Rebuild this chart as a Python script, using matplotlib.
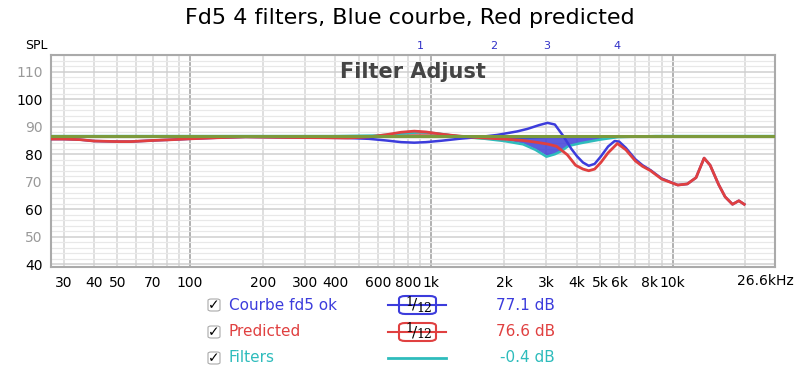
import matplotlib
matplotlib.use("Agg")
import matplotlib.pyplot as plt
from matplotlib.patches import FancyBboxPatch
from matplotlib.lines import Line2D

# measured curve (blue)
blue_f = [26.6, 30, 35, 40, 50, 57, 70, 85, 100, 130, 170, 250, 350, 450, 550, 650, 750,
          850, 950, 1100, 1300, 1600, 1870, 2270, 2500, 2800, 3030, 3250, 3530, 3800, 4020,
          4250, 4490, 4750, 5040, 5400, 5750, 6000, 6400, 7000, 7500, 8100, 9000, 10500,
          11500, 12500, 13500, 14300, 15500, 16500, 17700, 18800, 19800]
blue_db = [85.5, 85.5, 85.3, 84.8, 84.6, 84.6, 85.0, 85.3, 85.6, 86.0, 86.3, 86.1, 86.0,
           85.9, 85.6, 85.0, 84.4, 84.2, 84.4, 84.9, 85.6, 86.3, 87.0, 88.3, 89.2, 90.6,
           91.4, 90.8, 86.5, 82.0, 79.2, 77.0, 75.8, 76.5, 79.2, 82.8, 84.8, 84.6, 82.3,
           78.2, 76.0, 74.2, 71.2, 68.8, 69.2, 71.5, 78.6, 76.0, 69.0, 64.5, 61.8, 63.1, 61.8]

# predicted curve (red)
red_f = [26.6, 30, 35, 40, 50, 57, 70, 85, 100, 130, 170, 250, 350, 450, 550, 650, 750,
         850, 950, 1100, 1300, 1600, 2000, 2400, 2700, 3030, 3300, 3660, 3960, 4250, 4490,
         4750, 5040, 5400, 5900, 6400, 7000, 7500, 8100, 9000, 10500, 11500, 12500, 13500,
         14300, 15500, 16500, 17700, 18800, 19800]
red_db = [85.5, 85.5, 85.3, 84.8, 84.6, 84.6, 85.0, 85.3, 85.6, 86.0, 86.3, 86.1, 86.0,
          85.9, 86.3, 87.1, 88.0, 88.4, 88.1, 87.3, 86.6, 86.0, 85.5, 85.0, 84.4, 83.7,
          82.9, 79.8, 76.0, 74.6, 74.0, 74.6, 77.0, 80.5, 83.9, 81.6, 77.6, 75.6, 74.0,
          71.0, 68.8, 69.2, 71.5, 78.6, 76.0, 69.0, 64.5, 61.8, 63.1, 61.8]

target_db = 86.6
target_f = [26.6, 26600]

# filters total (cyan), gain relative to target
filt_f = [26.6, 400, 600, 750, 900, 1050, 1300, 1600, 2000, 2400, 2700, 3000, 3250, 3450,
          3700, 4150, 5000, 5900, 7000, 8500, 12000, 26600]
filt_db = [0, 0, 0.2, 0.9, 1.4, 1.0, -0.1, -0.8, -1.8, -3.0, -5.0, -7.5, -6.6, -5.5,
           -3.6, -2.6, -1.3, -0.4, -0.2, 0, 0, 0]

# individual filters
f1_f = [450, 550, 650, 750, 850, 950, 1050, 1200, 1400, 1700]
f1_db = [0, 0.3, 0.9, 1.6, 2.1, 2.0, 1.5, 0.9, 0.4, 0]
f2_f = [900, 1100, 1400, 1800, 2300, 2800, 3500, 4500]
f2_db = [0, -0.3, -0.8, -1.3, -1.1, -0.7, -0.3, 0]
f3_f = [1500, 2000, 2400, 2700, 3000, 3250, 3450, 3700, 4150, 5000, 6000]
f3_db = [0, -1.2, -2.6, -4.6, -7.0, -6.3, -5.3, -3.4, -2.4, -1.1, 0]
f4_f = [4500, 5200, 5900, 6600, 7500]
f4_db = [0, 0.3, 0.6, 0.3, 0]

filter_freqs = [900, 1810, 3000, 5900]
filter_names = ["1", "2", "3", "4"]

xticks = [30, 40, 50, 70, 100, 200, 300, 400, 600, 800, 1000, 2000, 3000, 4000, 5000,
          6000, 8000, 10000]
xlabels = ["30", "40", "50", "70", "100", "200", "300", "400", "600", "800", "1k", "2k",
           "3k", "4k", "5k", "6k", "8k", "10k"]
yticks = [40, 50, 60, 70, 80, 90, 100, 110]

legend_names = ["Courbe fd5 ok", "Predicted", "Filters"]
legend_vals = ["77.1 dB", "76.6 dB", "-0.4 dB"]

BLUE = "#3c3cdc"
RED = "#e04040"
CYAN = "#2ebcbc"
OLIVE = "#7c9a3c"

fig = plt.figure(figsize=(8, 3.76), dpi=100)
ax = fig.add_axes([0.064, 0.289, 0.905, 0.565])
ax.set_xscale("log")
ax.set_xlim(26.6, 26600)
ax.set_ylim(38.9, 116.1)

# grid
for dec in [10, 100, 1000, 10000]:
    for m in range(1, 10):
        f = dec * m
        if 26.6 < f < 26600:
            if m == 1:
                ax.axvline(f, color="#aaaaaa", lw=1.3, zorder=0)
            else:
                ax.axvline(f, color="#d6d6d6", lw=1.1, zorder=0)
for v in range(40, 117, 2):
    if v % 10 == 0:
        ax.axhline(v, color="#cfcfcf", lw=1.1, zorder=0)
    else:
        ax.axhline(v, color="#e8e8e8", lw=0.9, zorder=0)

# filter fills
ax.fill_between(f2_f, target_db, [target_db + g for g in f2_db], color="#30c030",
                alpha=0.85, lw=0, zorder=1)
ax.fill_between(f3_f, target_db, [target_db + g for g in f3_db], color="#4040d8",
                alpha=0.85, lw=0, zorder=1)
ax.fill_between(f4_f, target_db, [target_db + g for g in f4_db], color="#d8d020",
                alpha=0.9, lw=0, zorder=1)
ax.fill_between(f1_f, target_db, [target_db + g for g in f1_db], color="#c04040",
                alpha=0.7, lw=0, zorder=1)

ax.plot(filt_f, [target_db + g for g in filt_db], color=CYAN, lw=1.8, zorder=2)
ax.plot(blue_f, blue_db, color=BLUE, lw=1.8, zorder=3)
ax.plot(red_f, red_db, color=RED, lw=2.0, zorder=4)
ax.plot(target_f, [target_db, target_db], color=OLIVE, lw=2.2, zorder=5)

for s in ax.spines.values():
    s.set_color("#aaaaaa")
    s.set_linewidth(1.5)

ax.set_xticks(xticks)
ax.set_xticklabels(xlabels)
ax.xaxis.set_minor_locator(matplotlib.ticker.NullLocator())
ax.set_yticks(yticks)
ax.tick_params(length=0, labelsize=10, pad=6)
for lab, v in zip(ax.get_yticklabels(), yticks):
    lab.set_color("black" if v % 20 == 0 else "#999999")
ax.text(24300, 34, "26.6kHz", ha="center", va="center", fontsize=10, clip_on=False)

ax.text(-0.02, 1.045, "SPL", transform=ax.transAxes, ha="center", va="center", fontsize=9)
ax.text(0.5, 0.92, "Filter Adjust", transform=ax.transAxes, ha="center", va="center",
        fontsize=15, fontweight="bold", color="#444444")
for f, n in zip(filter_freqs, filter_names):
    ax.text(f, 119.5, n, ha="center", va="center", fontsize=8, color="#3030c8",
            clip_on=False)

fig.text(0.512, 0.952, "Fd5 4 filters, Blue courbe, Red predicted", ha="center",
         va="center", fontsize=16)

# legend
rows_y = [305, 332, 358]
cols = [BLUE, RED, CYAN]
for i, (name, val, c) in enumerate(zip(legend_names, legend_vals, cols)):
    y = 1 - rows_y[i] / 376
    fig.patches.append(FancyBboxPatch((208 / 800, y - 6 / 376), 12 / 800, 12 / 376,
                                      boxstyle="round,pad=0,rounding_size=0.004",
                                      transform=fig.transFigure, fc="white",
                                      ec="#aaaaaa", lw=0.8))
    fig.text(214 / 800, y, "\u2713", ha="center", va="center", fontsize=10,
             fontweight="bold", color="black")
    fig.text(229 / 800, y, name, ha="left", va="center", fontsize=11, color=c)
    fig.text(555 / 800, y, val, ha="right", va="center", fontsize=11, color=c)
    if i < 2:
        fig.lines.append(Line2D([388 / 800, 446 / 800], [y, y], color=c, lw=1.5,
                                transform=fig.transFigure))
        fig.patches.append(FancyBboxPatch((399 / 800, y - 9 / 376), 37 / 800, 18 / 376,
                                          boxstyle="round,pad=0,rounding_size=0.008",
                                          transform=fig.transFigure, fc="white",
                                          ec=c, lw=1.5))
        fig.text(409 / 800, y + 3 / 376, "1", ha="center", va="center", fontsize=9,
                 family="DejaVu Serif")
        fig.text(415 / 800, y, "/", ha="center", va="center", fontsize=11,
                 family="DejaVu Serif")
        fig.text(424 / 800, y - 3 / 376, "12", ha="center", va="center", fontsize=9,
                 family="DejaVu Serif")
    else:
        fig.lines.append(Line2D([388 / 800, 446 / 800], [y, y], color=c, lw=2,
                                transform=fig.transFigure))

fig.savefig("out.png", dpi=100)
